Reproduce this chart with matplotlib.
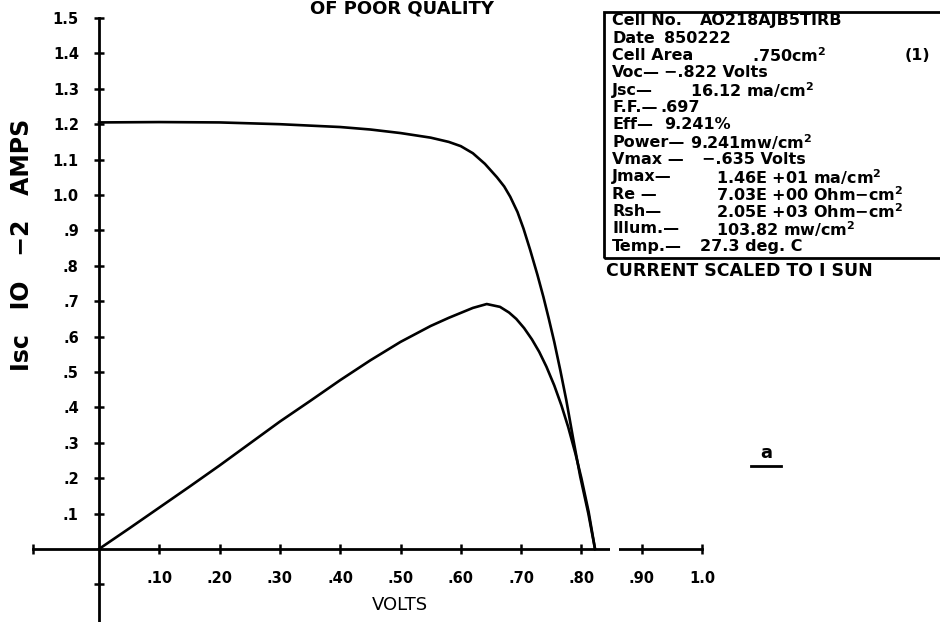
import matplotlib.pyplot as plt
from matplotlib.patches import Rectangle
from matplotlib.lines import Line2D

plt.rcParams['font.family'] = ['DejaVu Sans']
plt.rcParams['font.weight'] = 'bold'
plt.rcParams['mathtext.default'] = 'bf'

# I-V curve, current in 10^-2 amps
iv_volts = [0.0, 0.10, 0.20, 0.30, 0.40, 0.45, 0.50, 0.55, 0.58, 0.60, 0.62, 0.64, 0.66,
            0.672, 0.682, 0.694, 0.704, 0.715, 0.727, 0.737, 0.746, 0.755, 0.765, 0.775,
            0.786, 0.798, 0.8115, 0.8226]
iv_amps = [1.205, 1.206, 1.205, 1.200, 1.192, 1.185, 1.175, 1.162, 1.150, 1.138, 1.118, 1.088, 1.050,
           1.024, 0.995, 0.952, 0.905, 0.845, 0.775, 0.712, 0.650, 0.585, 0.505, 0.420,
           0.315, 0.205, 0.100, 0.0]

# power curve
pw_volts = [0.0, 0.05, 0.10, 0.15, 0.20, 0.25, 0.30, 0.35, 0.40, 0.45, 0.50, 0.55, 0.58,
            0.60, 0.62, 0.643, 0.665, 0.68, 0.692, 0.705, 0.718, 0.73, 0.742, 0.755, 0.767,
            0.778, 0.79, 0.80, 0.812, 0.8226]
pw_vals = [0.0, 0.058, 0.117, 0.176, 0.236, 0.298, 0.360, 0.418, 0.477, 0.533, 0.585, 0.630, 0.653,
           0.667, 0.681, 0.692, 0.684, 0.668, 0.650, 0.624, 0.592, 0.557, 0.515, 0.462, 0.405,
           0.345, 0.270, 0.200, 0.105, 0.0]

y_ticks = [-0.1, 0.1, 0.2, 0.3, 0.4, 0.5, 0.6, 0.7, 0.8, 0.9, 1.0, 1.1, 1.2, 1.3, 1.4, 1.5]
y_labels = ['', '.1', '.2', '.3', '.4', '.5', '.6', '.7', '.8', '.9',
            '1.0', '1.1', '1.2', '1.3', '1.4', '1.5']
x_ticks = [-0.11, 0.1, 0.2, 0.3, 0.4, 0.5, 0.6, 0.7, 0.8, 0.9, 1.0]
x_labels = ['', '.10', '.20', '.30', '.40', '.50', '.60', '.70', '.80', '.90', '1.0']

info_labels = ["Cell No.", "Date", "Cell Area", "Voc\u2014", "Jsc\u2014", "F.F.\u2014", "Eff\u2014",
               "Power\u2014", "Vmax \u2014", "Jmax\u2014", "Re \u2014", "Rsh\u2014", "Illum.\u2014", "Temp.\u2014"]
info_values = ["AO218AJB5TIRB", "850222", ".750cm$^2$", "\u2212.822 Volts", "16.12 ma/cm$^2$",
               ".697", "9.241%", "9.241mw/cm$^2$", "\u2212.635 Volts", "1.46E +01 ma/cm$^2$",
               "7.03E +00 Ohm\u2212cm$^2$", "2.05E +03 Ohm\u2212cm$^2$", "103.82 mw/cm$^2$", "27.3 deg. C"]
value_x = [700, 664, 752, 664, 690, 660, 664, 690, 702, 716, 716, 716, 716, 700]

W, H = 940, 622


def fpos(x, y):
    # pixel position (from top-left) -> figure fraction
    return x / W, 1 - y / H


fig = plt.figure(figsize=(9.4, 6.22), dpi=100)
ax = fig.add_axes([0, 0, 1, 1])
ax.set_xlim(-99 / 603, 841 / 603)
ax.set_ylim(-73 / 354, 549 / 354)

ax.plot(iv_volts, iv_amps, color='black', lw=1.9, solid_joinstyle='round')
ax.plot(pw_volts, pw_vals, color='black', lw=1.9, solid_joinstyle='round')

for side in ['top', 'right']:
    ax.spines[side].set_visible(False)
ax.spines['left'].set_position(('data', 0))
ax.spines['bottom'].set_position(('data', 0))
ax.spines['left'].set_bounds(-0.21, 1.5)
ax.spines['bottom'].set_bounds(-0.11, 1.0)
ax.spines['left'].set_linewidth(2)
ax.spines['bottom'].set_linewidth(2)
# small break in the x axis
ax.plot([0.847, 0.862], [0, 0], color='white', lw=4, zorder=3, solid_capstyle='butt')

ax.set_yticks(y_ticks, y_labels)
ax.set_xticks(x_ticks, x_labels)
ax.tick_params(axis='both', direction='inout', length=7, width=1.8, labelsize=10.5)
ax.tick_params(axis='y', pad=11)
ax.tick_params(axis='x', pad=12)

# labels
fig.text(*fpos(22, 245), "Isc   IO   \u22122   AMPS", rotation=90, fontsize=17,
         ha='center', va='center')
fig.text(*fpos(400, 605), "VOLTS", fontsize=13, weight='normal', ha='center', va='center')
fig.text(*fpos(402, 14), "OF POOR QUALITY", fontsize=13, ha='center', va='baseline')

# info box
x0, y0 = fpos(604, 11.7)
x1, y1 = fpos(950, 258)
fig.patches.append(Rectangle((x0, y1), x1 - x0, y0 - y1, transform=fig.transFigure,
                             fill=False, lw=2, ec='black'))
for i, (lab, val) in enumerate(zip(info_labels, info_values)):
    yy = 20.7 + 17.35 * i
    fig.text(*fpos(612, yy), lab, fontsize=11.5, va='center', ha='left')
    fig.text(*fpos(value_x[i], yy), val, fontsize=11.5, va='center', ha='left')
fig.text(*fpos(905, 55), "(1)", fontsize=11.5, va='center', ha='left')
fig.text(*fpos(606, 271), "CURRENT SCALED TO I SUN", fontsize=12.5, va='center', ha='left')

# panel mark
fig.text(*fpos(766, 453), "a", fontsize=13, ha='center', va='center')
ux0, uy = fpos(751, 466)
ux1, _ = fpos(781, 466)
fig.lines.append(Line2D([ux0, ux1], [uy, uy], transform=fig.transFigure, color='black', lw=2))

fig.savefig('out.png', dpi=100)
